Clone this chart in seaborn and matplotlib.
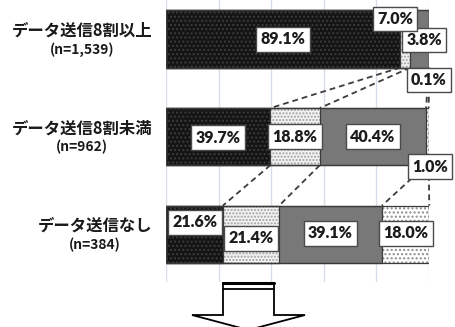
import matplotlib
matplotlib.use("Agg")
import matplotlib.pyplot as plt
import seaborn as sns
import numpy as np
import pandas as pd
from matplotlib.patches import Polygon
from matplotlib.lines import Line2D
import matplotlib.transforms as mtransforms

# ---- data ----
categories = ["データ送信8割以上", "データ送信8割未満", "データ送信なし"]
n_labels = ["(n=1,539)", "(n=962)", "(n=384)"]
seg_black = [89.1, 39.7, 21.6]
seg_fine = [3.8, 18.8, 21.4]
seg_gray = [7.0, 40.4, 39.1]
seg_sparse = [0.1, 1.0, 18.0]

sns.set_theme(style="white")
plt.rcParams['font.family'] = ['Lato', 'Noto Sans CJK JP', 'DejaVu Sans']
plt.rcParams['hatch.linewidth'] = 1.0

W, H = 455, 327
fig = plt.figure(figsize=(W / 100, H / 100), dpi=100)
ax = fig.add_axes([166 / W, 1 - 282 / H, 263 / W, 282 / H])

segs = np.array([seg_black, seg_fine, seg_gray, seg_sparse])
cum = np.cumsum(segs, axis=0)
styles = [
    dict(face='#141414', hatch='....', hcol='#3c3c3c'),
    dict(face='#f2f2f2', hatch='.....', hcol='#a0a0a0'),
    dict(face='#787878', hatch=None, hcol='#787878'),
    dict(face='#ffffff', hatch='....', hcol='#8c8c8c'),
]
bar_h = 0.585
df = pd.DataFrame({"cat": categories})

for k in range(3, -1, -1):
    df["v"] = cum[k]
    sns.barplot(data=df, x="v", y="cat", orient="h", width=bar_h,
                color=styles[k]['face'], edgecolor=styles[k]['hcol'],
                hatch=styles[k]['hatch'], linewidth=0, saturation=1,
                ax=ax, zorder=2)
for k in range(3, -1, -1):
    df["v"] = cum[k]
    sns.barplot(data=df, x="v", y="cat", orient="h", width=bar_h,
                color='#3a3a3a', fill=False, linewidth=0.9, saturation=1,
                ax=ax, zorder=3)

ax.set_xlim(0, 100)
ax.set_ylim(2.49, -0.4)
ax.set_xticks([0, 20, 40, 60, 80, 100])
ax.xaxis.grid(True, color='#d8dee8', lw=1)
ax.yaxis.grid(False)
ax.set_axisbelow(True)
ax.tick_params(length=0, labelbottom=False, labelleft=False)
ax.set_xlabel('')
ax.set_ylabel('')
for s in ax.spines.values():
    s.set_visible(False)

# connector dashed lines
for i in range(2):
    for k in range(4):
        ax.plot([cum[k, i], cum[k, i + 1]], [i + bar_h / 2, i + 1 - bar_h / 2],
                ls=(0, (3.2, 2.2)), color='#3c3c3c', lw=1.3, clip_on=False, zorder=1.5)

# value labels (offsets are layout only)
offsets = [
    [(0, 0), (7.1, 0.01), (-9.3, -0.205), (0.05, 0.42)],
    [(0, 0.01), (0, 0), (0, 0), (1.0, 0.31)],
    [(0.2, -0.12), (0, 0.04), (0, -0.01), (0, -0.01)],
]
for i in range(3):
    for k in range(4):
        v = segs[k, i]
        left = cum[k, i] - v
        dx, dy = offsets[i][k]
        ax.text(left + v / 2 + dx, i + dy, f"{v:.1f}%", ha='center', va='center',
                fontsize=11.5, fontweight='heavy', family=['Lato', 'DejaVu Sans'],
                color='#1c1c1c', zorder=6, clip_on=False,
                bbox=dict(boxstyle='square,pad=0.28', fc='white', ec='#4a4a4a', lw=1.0))

# category labels
fig.canvas.draw()
tr = mtransforms.blended_transform_factory(ax.transAxes, ax.transData)
xr = (152 - 166) / 263
for i, (c, n) in enumerate(zip(categories, n_labels)):
    t1 = ax.text(xr, i - 0.085, c, transform=tr, ha='right', va='center',
                 fontsize=11.8, fontweight='bold', family=['Noto Sans CJK JP'],
                 color='#1a1a1a')
    fig.canvas.draw()
    bb = t1.get_window_extent()
    cx = ax.transAxes.inverted().transform(((bb.x0 + bb.x1) / 2, 0))[0]
    ax.text(cx, i + 0.11, n, transform=tr, ha='center', va='center',
            fontsize=10, fontweight='bold', family=['Noto Sans CJK JP'],
            color='#1a1a1a')

# down arrow decoration
def fp(x, y):
    return (x / W, 1 - y / H)

pts = [fp(223, 283), fp(274, 283), fp(274, 315), fp(305, 315), fp(248.5, 330),
       fp(192, 315), fp(223, 315)]
fig.patches.append(Polygon(pts, closed=True, fc='white', ec='black', lw=1.3,
                           transform=fig.transFigure, clip_on=False))
fig.lines.append(Line2D([223 / W, 274 / W], [1 - 283.3 / H, 1 - 283.3 / H],
                        transform=fig.transFigure, color='black', lw=2.2))
fig.lines.append(Line2D([223 / W, 274 / W], [1 - 288.5 / H, 1 - 288.5 / H],
                        transform=fig.transFigure, color='black', lw=1.3))

fig.savefig("out.png", dpi=100)
